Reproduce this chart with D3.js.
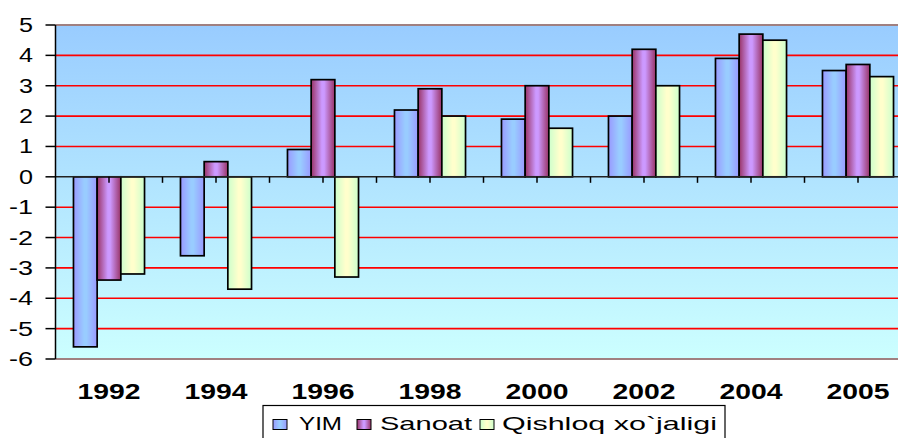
<!DOCTYPE html>
<html>
<head>
<meta charset="utf-8">
<script src="https://cdn.jsdelivr.net/npm/d3@7/dist/d3.min.js"></script>
<style>
  body { margin: 0; background: #fff; }
  svg { display: block; font-family: Arial, "Liberation Sans", sans-serif; }
</style>
</head>
<body>
<svg id="chart" width="898" height="438"></svg>
<script>
// data
var years = ["1992", "1994", "1996", "1998", "2000", "2002", "2004", "2005"];
var series = ["YIM", "Sanoat", "Qishloq xo`jaligi"];
var yim     = [-5.6, -2.6, 0.9, 2.2, 1.9, 2.0, 3.9, 3.5];
var sanoat  = [-3.4, 0.5, 3.2, 2.9, 3.0, 4.2, 4.7, 3.7];
var qishloq = [-3.2, -3.7, -3.3, 2.0, 1.6, 3.0, 4.5, 3.3];
var yTicks = [5, 4, 3, 2, 1, 0, -1, -2, -3, -4, -5, -6];

var values = [yim, sanoat, qishloq];
var svg = d3.select("#chart");

// colours: [edge, centre]
var fills = [["#9999ff", "#99ccff"], ["#993366", "#cc99ff"], ["#ccffcc", "#ffffcc"]];

var defs = svg.append("defs");
var bg = defs.append("linearGradient").attr("id", "bg")
  .attr("x1", 0).attr("y1", 0).attr("x2", 0).attr("y2", 1);
bg.append("stop").attr("offset", "0%").attr("stop-color", "#99ccff");
bg.append("stop").attr("offset", "100%").attr("stop-color", "#ccffff");

fills.forEach(function(f, i) {
  var g = defs.append("linearGradient").attr("id", "bar" + i)
    .attr("x1", 0).attr("y1", 0).attr("x2", 1).attr("y2", 0);
  g.append("stop").attr("offset", "0%").attr("stop-color", f[0]);
  g.append("stop").attr("offset", "45%").attr("stop-color", f[1]);
  g.append("stop").attr("offset", "55%").attr("stop-color", f[1]);
  g.append("stop").attr("offset", "100%").attr("stop-color", f[0]);
});

var pLeft = 55.5, pTop = 25, pBottom = 359, step = 107;
var pRight = pLeft + step * years.length;
var x = d3.scaleBand().domain(years)
  .range([pLeft, pRight])
  .paddingInner(0.336).paddingOuter(0.168);
var xs = d3.scaleBand().domain(d3.range(series.length)).range([0, x.bandwidth()]);
var y = d3.scaleLinear().domain([-6, 5]).range([pBottom, pTop]);

// plot background
svg.append("rect")
  .attr("x", pLeft).attr("y", pTop)
  .attr("width", pRight - pLeft).attr("height", pBottom - pTop)
  .attr("fill", "url(#bg)");

// gridlines
svg.append("g").selectAll("line")
  .data(yTicks.filter(function(d) { return d != 5 && d != -6 && d != 0; }))
  .enter().append("line")
  .attr("x1", pLeft).attr("x2", pRight)
  .attr("y1", function(d) { return y(d); }).attr("y2", function(d) { return y(d); })
  .attr("stroke", "#ff0000").attr("stroke-width", 1.6);

// top / bottom border
svg.append("g").selectAll("line").data([5, -6]).enter().append("line")
  .attr("x1", pLeft).attr("x2", pRight)
  .attr("y1", function(d) { return y(d); }).attr("y2", function(d) { return y(d); })
  .attr("stroke", "#a08080").attr("stroke-width", 2);

// bars
var groups = svg.append("g").selectAll("g").data(years).enter().append("g")
  .attr("transform", function(d) { return "translate(" + x(d) + ",0)"; });
groups.selectAll("rect")
  .data(function(d, i) { return values.map(function(v, s) { return { s: s, v: v[i] }; }); })
  .enter().append("rect")
  .attr("x", function(d) { return xs(d.s); })
  .attr("width", xs.bandwidth())
  .attr("y", function(d) { return y(Math.max(0, d.v)); })
  .attr("height", function(d) { return Math.abs(y(d.v) - y(0)); })
  .attr("fill", function(d) { return "url(#bar" + d.s + ")"; })
  .attr("stroke", "#000").attr("stroke-width", 1.7);

// zero axis with ticks at half steps
svg.append("line")
  .attr("x1", pLeft).attr("x2", pRight)
  .attr("y1", y(0)).attr("y2", y(0))
  .attr("stroke", "#222").attr("stroke-width", 1.5);
svg.append("g").selectAll("line").data(d3.range(1, years.length * 2))
  .enter().append("line")
  .attr("x1", function(d) { return pLeft + d * step / 2; })
  .attr("x2", function(d) { return pLeft + d * step / 2; })
  .attr("y1", y(0)).attr("y2", y(0) + 6)
  .attr("stroke", "#000").attr("stroke-width", 1.5);

// left axis
svg.append("line").attr("x1", pLeft).attr("x2", pLeft)
  .attr("y1", pTop).attr("y2", pBottom).attr("stroke", "#000").attr("stroke-width", 1.5);
var yt = svg.append("g").selectAll("g").data(yTicks).enter().append("g");
yt.append("line")
  .attr("x1", pLeft - 10).attr("x2", pLeft)
  .attr("y1", function(d) { return y(d); }).attr("y2", function(d) { return y(d); })
  .attr("stroke", "#000").attr("stroke-width", 1.5);
yt.append("text")
  .attr("x", 33).attr("y", function(d) { return y(d) + 7; })
  .attr("text-anchor", "end").attr("font-size", 19.5).attr("fill", "#000")
  .attr("textLength", function(d) { return d < 0 ? 24 : 14; })
  .attr("lengthAdjust", "spacingAndGlyphs")
  .text(function(d) { return d; });

// year labels
svg.append("g").selectAll("text").data(years).enter().append("text")
  .attr("x", function(d) { return x(d) + x.bandwidth() / 2; })
  .attr("y", 399)
  .attr("text-anchor", "middle").attr("font-size", 21.5).attr("font-weight", "bold")
  .attr("textLength", 63).attr("lengthAdjust", "spacingAndGlyphs")
  .text(function(d) { return d; });

// legend
var lg = svg.append("g");
lg.append("rect").attr("x", 263).attr("y", 405.5).attr("width", 462).attr("height", 40)
  .attr("fill", "#fff").attr("stroke", "#000").attr("stroke-width", 1.2);
var lx = [273, 357, 480];
var tx = [299, 380, 502];
var lw = [43, 92, 215];
series.forEach(function(s, i) {
  lg.append("rect").attr("x", lx[i]).attr("y", 419.5).attr("width", 14).attr("height", 10)
    .attr("fill", "url(#bar" + i + ")").attr("stroke", "#000").attr("stroke-width", 1);
  lg.append("text").attr("x", tx[i]).attr("y", 429.5)
    .attr("font-size", 18.5).attr("textLength", lw[i]).attr("lengthAdjust", "spacingAndGlyphs")
    .text(s);
});
</script>
</body>
</html>
